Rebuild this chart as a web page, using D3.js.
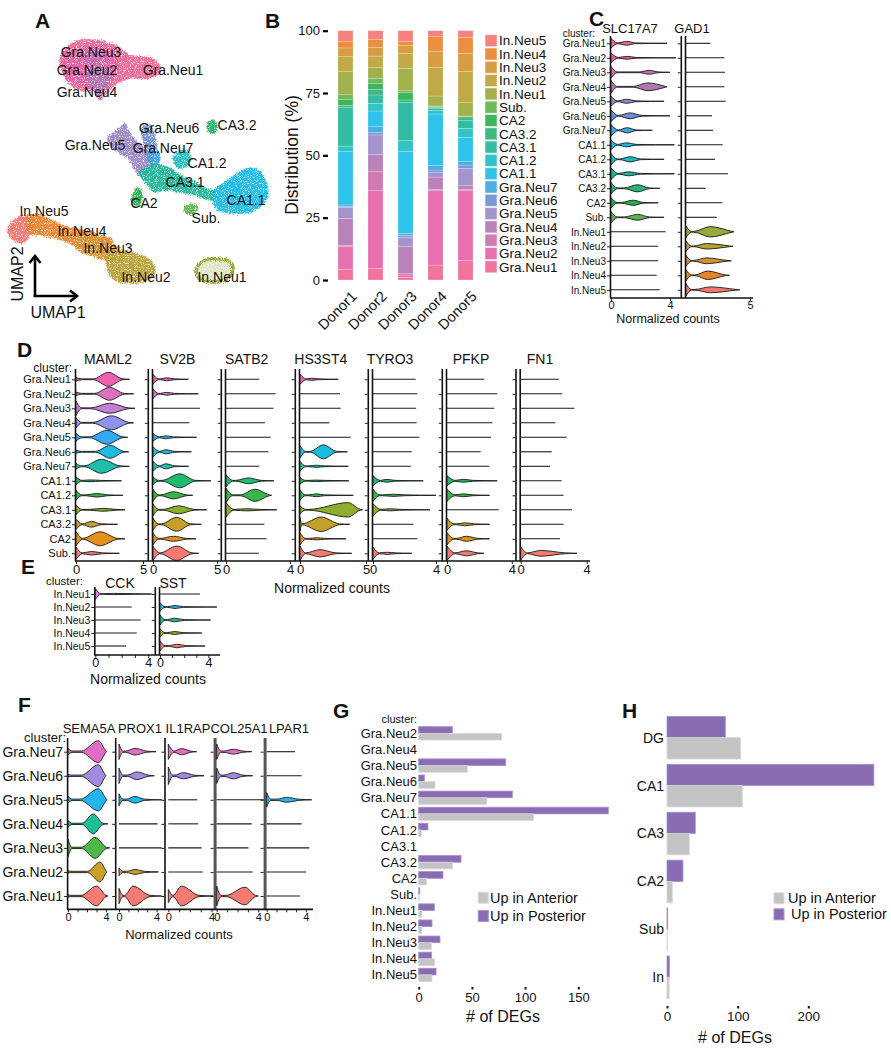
<!DOCTYPE html>
<html><head><meta charset="utf-8">
<script src="https://cdn.jsdelivr.net/npm/d3@7"></script>
<style>
body{margin:0;background:#fff}
svg{display:block}
text{font-family:"Liberation Sans",Arial,Helvetica,sans-serif;fill:#111}
</style>
</head><body>
<svg id="fig" width="891" height="1050">
  <defs>
    <filter id="speckle" x="-10%" y="-10%" width="120%" height="120%">
      <feTurbulence type="fractalNoise" baseFrequency="0.85" numOctaves="1" seed="7" result="noise"/>
      <feDisplacementMap in="SourceGraphic" in2="noise" scale="6" xChannelSelector="R" yChannelSelector="G" result="disp"/>
      <feColorMatrix in="noise" type="matrix" values="0 0 0 0 0  0 0 0 0 0  0 0 0 0 0  6 0 0 0 -1.7" result="mask"/>
      <feComposite in="disp" in2="mask" operator="in"/>
    </filter>
  </defs>
</svg>
<script>
// ======================= DATA =======================
// --- cluster names / colours (panels A, B, C)
const clusters18 = ["Gra.Neu1","Gra.Neu2","Gra.Neu3","Gra.Neu4","Gra.Neu5","Gra.Neu6","Gra.Neu7","CA1.1","CA1.2","CA3.1","CA3.2","CA2","Sub.","In.Neu1","In.Neu2","In.Neu3","In.Neu4","In.Neu5"];
const colors18 = ["#EE6594","#E760A6","#CC6AAD","#B176B2","#9A87C6","#6B8FD0","#3BA3DE","#18BBE8","#1BBDC0","#1CB598","#2BB074","#27AE4A","#5DB34B","#98A93B","#B9A032","#D4922E","#E9832A","#F47470"];

// --- Panel A: UMAP cluster outlines (UMAP1, UMAP2)
const umapGraNeu1 = [[5.7,25.0],[6.7,25.8],[8.7,26.0],[10.7,25.5],[12.2,24.5],[14.2,24.2],[15.0,23.7],[15.2,22.8],[14.2,22.2],[12.2,22.2],[10.7,21.5],[9.7,20.5],[9.2,20.0],[8.7,20.8],[7.2,21.0],[6.0,21.8],[5.4,23.0],[5.2,24.2]];
const umapGraNeu2 = [[5.7,24.5],[7.2,25.2],[9.2,25.3],[10.7,24.5],[11.0,23.2],[10.2,22.0],[8.7,21.5],[6.7,21.7],[5.5,22.8]];
const umapGraNeu3 = [[7.7,24.8],[9.2,25.0],[9.8,24.3],[9.0,23.7],[7.8,23.9]];
const umapGraNeu4 = [[8.0,23.0],[9.4,23.4],[10.2,22.6],[9.8,21.2],[9.3,20.1],[8.8,21.0],[8.0,21.8]];
const umapGraNeu5 = [[11.2,17.2],[11.7,17.6],[12.0,17.0],[12.7,16.0],[13.7,15.0],[14.2,14.0],[14.0,13.0],[13.2,12.4],[12.7,13.0],[12.2,14.0],[11.0,14.8],[10.2,15.5],[10.0,16.2],[10.7,16.8]];
const umapGraNeu6 = [[13.4,17.2],[14.2,17.4],[14.7,16.5],[14.8,15.0],[14.4,14.0],[13.9,14.5],[13.6,15.8]];
const umapGraNeu7 = [[14.2,14.8],[14.9,15.0],[15.2,14.2],[14.8,13.4],[14.2,13.6]];
const umapCA31 = [[13.2,12.8],[14.7,13.5],[16.2,13.2],[17.2,12.5],[18.7,11.8],[19.7,11.2],[20.7,10.8],[21.0,10.2],[20.2,10.0],[18.7,10.5],[17.2,10.8],[15.7,11.0],[14.7,10.8],[14.0,11.5],[13.4,12.2]];
const umapCA12 = [[16.7,14.5],[17.5,15.0],[18.2,14.5],[18.0,13.5],[17.2,13.2],[16.6,13.8]];
const umapCA11 = [[20.7,11.0],[21.7,11.8],[23.2,12.8],[24.2,13.2],[25.0,13.0],[25.7,12.0],[26.0,10.5],[25.4,9.5],[24.2,8.8],[22.4,8.7],[21.0,9.0],[20.5,10.0]];
const umapCA32 = [[20.0,17.7],[20.6,18.0],[20.9,17.2],[20.6,16.7],[20.0,16.9]];
const umapCA2 = [[12.5,10.5],[12.9,11.2],[13.3,11.0],[13.4,10.0],[13.0,9.5],[12.4,9.7]];
const umapSub = [[17.7,9.3],[18.4,9.6],[19.0,9.2],[18.5,8.6],[17.8,8.7]];
const umapInNeu5 = [[0.2,7.5],[1.0,8.2],[2.0,8.4],[2.5,7.8],[2.2,6.5],[1.4,5.7],[0.6,6.0],[0.0,6.8]];
const umapInNeu4 = [[2.0,8.4],[3.2,8.5],[4.7,7.8],[6.2,7.2],[7.7,7.0],[9.2,6.5],[10.4,6.0],[10.2,5.0],[8.7,5.0],[7.2,5.2],[6.2,5.7],[4.7,6.2],[3.2,6.5],[2.2,6.7]];
const umapInNeu3 = [[6.7,6.2],[8.7,6.4],[10.7,5.5],[11.7,4.5],[11.2,3.8],[9.7,4.0],[8.2,4.5],[7.0,5.0]];
const umapInNeu2 = [[10.0,4.5],[11.7,4.8],[13.2,4.5],[14.4,3.8],[14.7,2.8],[14.0,2.0],[12.2,1.7],[10.7,2.0],[10.0,3.0]];
const umapInNeu1 = [[19.0,3.4],[19.7,4.0],[21.2,4.1],[22.2,3.8],[22.5,3.0],[22.0,2.2],[20.7,1.8],[19.4,2.0],[18.8,2.7]];
const umapLabels = [["Gra.Neu3",8.3,24.8],["Gra.Neu2",7.9,23.0],["Gra.Neu1",16.5,23.0],["Gra.Neu4",7.9,20.8],["Gra.Neu6",16.1,17.2],["CA3.2",22.9,17.5],["Gra.Neu5",8.7,15.5],["Gra.Neu7",15.5,15.2],["CA1.2",19.9,13.7],["CA3.1",17.7,11.8],["CA2",13.6,9.7],["CA1.1",23.8,10.0],["Sub.",19.8,8.2],["In.Neu5",3.6,8.9],["In.Neu4",7.4,6.9],["In.Neu3",10.0,5.2],["In.Neu2",13.8,2.3],["In.Neu1",21.4,2.3]];

// --- Panel B: % of cells per cluster (order = clusters18)
const donors = ["Donor1","Donor2","Donor3","Donor4","Donor5"];
const donor1Pct = [4.3,9.1,0.5,10.8,4.4,0.5,0.5,21.4,2.2,15.6,0.7,2.3,2.0,9.3,6.0,3.5,2.7,4.2];
const donor2Pct = [4.7,31.1,7.6,7.0,7.8,0.9,2.4,6.3,3.1,3.3,2.3,2.4,2.0,4.3,4.6,3.5,3.2,3.5];
const donor3Pct = [1.0,1.0,0.5,10.9,3.7,0.8,0.8,32.8,4.4,15.2,1.1,2.9,0.8,9.0,6.0,3.3,1.4,4.4];
const donor4Pct = [6.0,29.8,0.5,5.0,1.8,1.0,1.8,20.7,1.5,0.8,0.3,0.3,0.3,4.0,11.4,6.6,6.0,2.2];
const donor5Pct = [7.8,28.0,0.5,1.5,7.0,1.3,1.4,9.7,3.6,3.1,1.5,0.2,0.2,5.3,12.5,7.3,6.4,2.7];
const bTicks = [0,25,50,75,100];

// Violin specs: [max] = no expression (line only);
// [max, widthAtZero, modeValue, modeWidth, modeLeftSpread, modeRightSpread]
// --- Panel C (rows = clusters18)
const cGenes = ["SLC17A7","GAD1"];
const cVioSLC17A7 = [[3.8,0.75,1.06,0.3,0.6,0.6],[4.4,0.75,1.1,0.22,0.6,0.6],[4.0,0.9,2.6,0.3,0.7,0.6],[3.8,1.0,2.5,0.6,1.0,1.2],[3.6,0.75,1.05,0.3,0.6,0.7],[4.0,0.9,1.3,0.45,0.8,0.8],[2.8,0.9,1.1,0.4,0.6,0.6],[4.3,0.75,1.05,0.3,0.6,0.7],[3.6,0.9,1.3,0.4,0.7,0.7],[4.3,0.9,1.2,0.3,0.7,0.8],[3.3,0.9,1.8,0.55,0.9,0.8],[3.2,0.8,1.5,0.4,0.8,0.7],[3.6,0.9,1.8,0.45,0.9,0.8],[3.7],[3.2],[3.2],[3.1],[3.3]];
const cVioGAD1 = [[1.9],[3.0],[3.05],[3.0],[3.1],[2.03],[2.1],[2.87],[2.27],[3.28],[1.54],[2.85],[2.4],[3.75,0.9,1.9,0.8,1.3,1.7],[3.67,0.8,1.6,0.42,1.0,1.8],[3.54,0.85,1.6,0.45,1.0,1.6],[3.4,0.85,1.7,0.65,1.0,1.4],[4.2,0.95,1.9,0.45,1.2,2.0]];
const cTickLabels = [[0,4],[5]];

// --- Panel D
const dRows = ["Gra.Neu1","Gra.Neu2","Gra.Neu3","Gra.Neu4","Gra.Neu5","Gra.Neu6","Gra.Neu7","CA1.1","CA1.2","CA3.1","CA3.2","CA2","Sub."];
const dColors = ["#F060B0","#DE70C0","#C37FD6","#8E93EC","#34A9EE","#1CBCE0","#1DC0AC","#22BA6E","#3AB54A","#8CAE2C","#C2A02A","#E4901C","#F47A72"];
const dGenes = ["MAML2","SV2B","SATB2","HS3ST4","TYRO3","PFKP","FN1"];
const dVioMAML2 = [[4.0,0.25,2.4,0.97,1.1,1.1],[4.3,0.25,2.5,0.9,1.1,1.1],[4.4,1.0,2.5,0.7,1.4,1.4],[4.3,0.7,2.65,0.97,1.4,1.3],[3.86,0.55,2.3,0.97,1.3,1.2],[3.93,0.2,2.55,0.9,1.1,1.0],[3.98,0.4,1.9,0.97,1.3,1.4],[3.4,0.55,1.05,0.12,0.6,0.8],[3.5,0.7,1.55,0.25,0.8,0.8],[3.66,0.7,2.0,0.2,1.0,1.0],[3.1,0.7,1.17,0.4,0.7,0.7],[3.66,1.0,1.8,0.97,1.3,1.3],[3.24,0.85,1.17,0.25,0.7,0.8]];
const dVioSV2B = [[2.76,0.7,1.07,0.2,0.5,0.6],[3.54,0.7,1.07,0.2,0.5,0.6],[3.67],[2.84],[3.41,0.55,1.0,0.2,0.5,0.6],[3.0,0.7,1.0,0.28,0.5,0.7],[2.78,0.7,1.0,0.35,0.5,0.7],[4.53,0.55,2.1,0.97,1.4,1.2],[3.1,0.85,1.6,0.5,1.0,1.0],[4.2,0.85,2.0,0.55,1.2,1.2],[3.78,0.85,1.85,0.97,1.2,1.1],[3.36,0.85,1.6,0.35,1.0,1.0],[3.57,0.97,1.85,1.0,1.3,1.2]];
const dVioSATB2 = [[2.08],[3.1],[2.96],[2.44],[2.79],[2.65],[2.08],[3.0,0.85,1.4,0.4,0.8,0.8],[2.85,1.0,1.81,0.85,0.9,0.9],[3.17,1.0,1.3,0.15,0.8,0.8],[2.4],[2.54],[2.06]];
const dVioHS3ST4 = [[2.9,0.7,0.88,0.15,0.4,0.5],[3.03],[3.08],[2.22],[3.84],[3.59,0.85,1.77,0.97,1.0,1.0],[3.66,0.7,1.25,0.15,0.6,0.6],[3.7,0.45,1.25,0.1,0.6,0.6],[4.04,0.7,1.25,0.2,0.6,0.6],[4.75,0.55,3.66,1.0,3.0,0.9],[3.77,0.97,1.6,1.0,1.5,1.4],[3.48,0.85,1.25,0.15,0.6,0.6],[3.92,1.0,1.52,0.5,1.1,1.2]];
const dVioTYRO3 = [[2.71],[2.81],[2.74],[2.77],[2.94],[2.46],[2.4],[3.19,0.7,0.87,0.2,0.4,0.5],[4.0,0.85,1.3,0.15,0.7,0.7],[3.62,0.85,1.1,0.15,0.6,0.6],[2.57],[2.81],[2.46,0.85,0.9,0.15,0.5,0.5]];
const dVioPFKP = [[2.3],[3.1],[2.92],[2.8],[2.72],[2.08],[2.61],[3.1,0.7,1.0,0.2,0.5,0.6],[2.63,0.85,1.0,0.2,0.5,0.6],[3.2],[2.63,0.85,1.1,0.2,0.5,0.6],[2.63,0.85,1.2,0.35,0.6,0.7],[2.28,1.0,1.2,0.35,0.7,0.7]];
const dVioFN1 = [[2.3],[2.52],[3.25],[2.1],[2.79],[1.88],[1.78],[2.48],[2.6],[3.11],[2.6],[2.38],[3.41,0.95,1.2,0.4,0.8,1.5]];
const dTickLabels = [[0,5],[0,5],[0,4],[0,5],[0,4],[0,4],[0,4]];

// --- Panel E
const eRows = ["In.Neu1","In.Neu2","In.Neu3","In.Neu4","In.Neu5"];
const eColors = ["#E07DE0","#2EAEEA","#1EBE86","#A6A52A","#F47A72"];
const eGenes = ["CCK","SST"];
const eVioCCK = [[4.27,0.9,1.4,0.1,0.8,1.5],[2.76],[3.44],[3.14],[2.33]];
const eVioSST = [[3.3],[4.7,0.7,1.24,0.25,0.6,0.7],[4.19,0.85,1.2,0.3,0.6,0.8],[3.45,0.7,1.2,0.25,0.6,0.7],[3.72,0.85,1.38,0.3,0.6,0.8]];
const eTickLabels = [[0,4],[0,4]];

// --- Panel F
const fRows = ["Gra.Neu7","Gra.Neu6","Gra.Neu5","Gra.Neu4","Gra.Neu3","Gra.Neu2","Gra.Neu1"];
const fColors = ["#E36CC6","#A08BE0","#22B6EC","#1EBF98","#4FB748","#C9A02A","#F47A72"];
const fGenes = ["SEMA5A","PROX1","IL1RAP","COL25A1","LPAR1"];
const fVioSEMA5A = [[4.07,0.3,3.2,1.0,1.8,0.8],[4.0,0.1,3.2,1.0,1.8,0.8],[4.1,0.3,3.2,1.0,1.9,0.85],[4.2,0.3,2.67,0.9,1.2,1.0],[4.4,0.8,2.84,0.95,1.4,1.2],[4.1,0.1,3.37,0.9,1.3,0.8],[4.2,0.1,3.0,0.9,1.6,1.0]];
const fVioPROX1 = [[3.94,0.7,1.7,0.3,1.0,1.2],[3.76,0.7,1.9,0.35,1.0,1.2],[4.54,0.55,1.7,0.3,0.9,1.0],[4.11],[4.54],[4.2,0.35,1.7,0.22,0.9,1.0],[4.54,0.7,1.5,0.9,0.9,1.8]];
const fVioIL1RAP = [[2.62,0.7,1.23,0.28,0.7,0.8],[3.3,0.8,1.39,0.28,0.8,1.0],[2.68],[2.77],[3.08],[3.2],[4.17,0.6,1.23,0.9,0.8,1.6]];
const fVioCOL25A1 = [[3.37,0.7,1.6,0.22,0.9,0.9],[3.46,0.7,1.6,0.28,0.9,0.9],[4.6],[3.37],[3.05],[3.46],[4.0,0.9,2.72,0.8,1.8,1.0]];
const fVioLPAR1 = [[2.89],[3.57],[4.59,0.65,2.04,0.22,1.0,1.2],[3.57],[4.35],[4.01],[3.4]];
const fTickLabels = [[0,4],[0,4],[0,4],[0,4],[0,4]];

// --- Panel G: number of DEGs per cluster
const gClusters = ["Gra.Neu2","Gra.Neu4","Gra.Neu5","Gra.Neu6","Gra.Neu7","CA1.1","CA1.2","CA3.1","CA3.2","CA2","Sub.","In.Neu1","In.Neu2","In.Neu3","In.Neu4","In.Neu5"];
const gPosterior = [31.6,0,81.8,5.3,88,178.2,8.7,0,39.8,22.8,1.0,14.7,12.5,20,12.2,16.3];
const gAnterior = [78,0,45.7,15.3,63.9,107.7,2.5,0,31.6,7.5,0.5,3,3,12.2,15,12.5];
const gTicks = [0,50,100,150];

// --- Panel H: number of DEGs per region
const hRegions = ["DG","CA1","CA3","CA2","Sub","In"];
const hPosterior = [82.5,292.8,40,22.6,1,3.3];
const hAnterior = [104.2,106.5,31.6,7.5,0.5,3];
const hTicks = [0,100,200];

const degSeries = ["Up in Posterior","Up in Anterior"];
const degColors = {"Up in Posterior":"#8A6CB3","Up in Anterior":"#C4C4C4"};
const degStroke = {"Up in Posterior":"#A58FD0","Up in Anterior":"#D9D9D9"};

// ======================= DRAWING =======================
const svg = d3.select("#fig");
svg.insert("rect","defs").attr("width",891).attr("height",1050).attr("fill","#fff");
const FONT = '"Liberation Sans", Arial, Helvetica, sans-serif';

function txt(g, x, y, s, size, anchor, weight){
  return g.append("text").attr("x",x).attr("y",y).attr("dy","0.35em")
    .attr("font-size",size).attr("text-anchor",anchor||"start")
    .attr("font-weight",weight||null).text(s);
}
function letter(x, y, s){ svg.append("text").attr("x",x).attr("y",y).attr("font-size",21).attr("font-weight","bold").text(s); }

letter(35,28,"A"); letter(265,28,"B"); letter(589,26,"C"); letter(17,357,"D");
letter(21,574,"E"); letter(18,712,"F"); letter(333,718,"G"); letter(622,718,"H");

// ---------- Panel A ----------
(function(){
  const g = svg.append("g");
  const gb = g.append("g").attr("filter","url(#speckle)");
  const ux = d3.scaleLinear().domain([0,27]).range([8,278]);
  const uy = d3.scaleLinear().domain([0,27]).range([300,30]);
  const blobs = [["Gra.Neu1",umapGraNeu1],["Gra.Neu2",umapGraNeu2],["Gra.Neu3",umapGraNeu3],["Gra.Neu4",umapGraNeu4],
    ["Gra.Neu5",umapGraNeu5],["Gra.Neu6",umapGraNeu6],["Gra.Neu7",umapGraNeu7],["CA3.1",umapCA31],["CA1.2",umapCA12],
    ["CA1.1",umapCA11],["CA3.2",umapCA32],["CA2",umapCA2],["Sub.",umapSub],["In.Neu5",umapInNeu5],["In.Neu4",umapInNeu4],
    ["In.Neu3",umapInNeu3],["In.Neu2",umapInNeu2],["In.Neu1",umapInNeu1]];
  const col = d3.scaleOrdinal().domain(clusters18).range(colors18);
  const line = d3.line().x(d=>ux(d[0])).y(d=>uy(d[1])).curve(d3.curveCatmullRomClosed.alpha(0.5));
  blobs.forEach(([name, pts]) => {
    const ring = name === "In.Neu1";
    gb.append("path").attr("d", line(pts)).attr("fill", col(name))
      .attr("fill-opacity", ring ? 0.3 : 0.95)
      .attr("stroke", col(name)).attr("stroke-width", ring ? 3.5 : 1.5).attr("stroke-opacity", ring ? 1 : 0.7);
  });
  umapLabels.forEach(([s,x,y]) => txt(g, ux(x), uy(y), s, 14, "middle"));
  g.append("path").attr("d","M35,297 V257").attr("stroke","#000").attr("stroke-width",2.6).attr("fill","none");
  g.append("path").attr("d","M29.5,263 L35,256 L40.5,263").attr("stroke","#000").attr("stroke-width",2.6).attr("fill","none");
  g.append("path").attr("d","M33.7,296 H76").attr("stroke","#000").attr("stroke-width",2.6).attr("fill","none");
  g.append("path").attr("d","M70,290.5 L77,296 L70,301.5").attr("stroke","#000").attr("stroke-width",2.6).attr("fill","none");
  g.append("text").attr("transform","translate(23,274) rotate(-90)").attr("text-anchor","middle").attr("font-size",16).text("UMAP2");
  txt(g, 58, 312, "UMAP1", 16, "middle");
})();

// ---------- Panel B ----------
(function(){
  const g = svg.append("g");
  const pctArrays = [donor1Pct,donor2Pct,donor3Pct,donor4Pct,donor5Pct];
  const table = donors.map((d,i) => { const o = {donor:d}; clusters18.forEach((c,j)=>o[c]=pctArrays[i][j]); return o; });
  const stack = d3.stack().keys(clusters18)(table);
  const x = d3.scaleBand().domain(donors).range([330.5,480.5]).paddingInner(0.5).paddingOuter(0.25);
  const y = d3.scaleLinear().domain([0,100]).range([280,30.7]);
  const col = d3.scaleOrdinal().domain(clusters18).range(colors18);
  stack.forEach(layer => {
    g.append("g").selectAll("rect").data(layer).join("rect")
      .attr("x", d=>x(d.data.donor)).attr("width", x.bandwidth())
      .attr("y", d=>y(d[1])).attr("height", d=>Math.max(0, y(d[0])-y(d[1])))
      .attr("fill", col(layer.key)).attr("fill-opacity",0.9)
      .attr("stroke","#fff").attr("stroke-opacity",0.35).attr("stroke-width",0.6);
  });
  const ax = g.append("g").attr("transform","translate(328,0)")
    .call(d3.axisLeft(y).tickValues(bTicks).tickSize(5).tickPadding(3));
  ax.select(".domain").remove();
  ax.selectAll("line").attr("stroke-width",2.2);
  ax.selectAll("text").attr("font-size",13).attr("font-family",FONT).attr("fill","#222");
  g.append("text").attr("transform","translate(292,155) rotate(-90)").attr("text-anchor","middle")
    .attr("dy","0.35em").attr("font-size",17.5).text("Distribution (%)");
  donors.forEach(d => {
    const cx = x(d) + x.bandwidth()/2;
    g.append("text").attr("transform",`translate(${cx+5},290) rotate(-45)`).attr("text-anchor","end")
      .attr("dy","0.7em").attr("font-size",14.5).text(d);
  });
  const legOrder = clusters18.slice().reverse();
  legOrder.forEach((c,i) => {
    const yy = 40.7 + i*13.3;
    g.append("rect").attr("x",485).attr("y",yy-6).attr("width",12).attr("height",12)
      .attr("fill",col(c)).attr("fill-opacity",0.9).attr("stroke","#fff").attr("stroke-opacity",0.5);
    txt(g, 499, yy, c, 13.5);
  });
})();

// ---------- generic violin panel ----------
function violinShape(spec){
  const [mx,w0,c,h,l,r] = spec;
  const t = 0.06;
  const pts = [[0,w0]];
  let a = c - l;
  if (a > 0.55) pts.push([0.42,t]);
  a = Math.max(a, 0.14);
  pts.push([a,t]);
  pts.push([c,h]);
  const b = Math.min(c + r, mx - 0.06);
  if (b > c + 0.05) pts.push([b,t]);
  pts.push([mx,0]);
  return pts;
}
function violinPanel(cfg){
  const g = svg.append("g");
  const yS = d3.scalePoint().domain(cfg.rows).range(cfg.yRange);
  cfg.genes.forEach((gene, gi) => {
    const z = cfg.zeros[gi];
    const tmax = d3.max(cfg.tickLabels[gi]) || 4;
    const xs = d3.scaleLinear().domain([0,1]).range([z, z + cfg.ppu[gi]]);
    const seps = cfg.seps(gi);
    seps.forEach(([dx,color,w]) => {
      g.append("line").attr("x1",z+dx).attr("x2",z+dx).attr("y1",cfg.topY).attr("y2",cfg.axisY)
        .attr("stroke",color).attr("stroke-width",w);
    });
    const leftX = z + d3.min(seps, s=>s[0]) - (d3.max(seps, s=>s[2]) > 2 ? 1.5 : 0.5);
    const ya = g.append("g").attr("transform",`translate(${leftX},0)`)
      .call(d3.axisLeft(yS).tickSize(3).tickPadding(1).tickFormat(gi===0 ? (d=>d) : (()=>"")));
    ya.select(".domain").remove();
    ya.selectAll("text").attr("font-size",cfg.rowLabelSize).attr("font-family",FONT).attr("fill","#222");
    ya.selectAll("line").attr("stroke","#222");
    txt(g, cfg.titleXs[gi], cfg.titleY, gene, cfg.titleSize, "middle");
    cfg.specs[gi].forEach((spec, ri) => {
      const yy = yS(cfg.rows[ri]);
      if (spec.length === 1){
        g.append("line").attr("x1",xs(0)).attr("x2",xs(spec[0])).attr("y1",yy).attr("y2",yy)
          .attr("stroke","#1a1a1a").attr("stroke-width",1.1);
      } else {
        const area = d3.area().x(d=>xs(d[0])).y0(d=>yy - d[1]*cfg.maxHalf).y1(d=>yy + d[1]*cfg.maxHalf)
          .curve(d3.curveMonotoneX);
        g.append("path").attr("d", area(violinShape(spec))).attr("fill", cfg.colors[ri])
          .attr("stroke","#1a1a1a").attr("stroke-width",0.9).attr("stroke-linejoin","round");
      }
    });
    const xsT = d3.scaleLinear().domain([0,tmax]).range([xs(0), xs(tmax)]);
    const vals = cfg.minor ? d3.range(0, tmax+1) : cfg.tickLabels[gi];
    const xa = g.append("g").attr("transform",`translate(0,${cfg.axisY})`)
      .call(d3.axisBottom(xsT).tickValues(vals).tickSize(3).tickPadding(0.5)
        .tickFormat(d => cfg.tickLabels[gi].includes(d) ? d : ""));
    xa.select(".domain").remove();
    xa.selectAll("text").attr("font-size",cfg.tickFont).attr("font-family",FONT).attr("fill","#222");
    xa.selectAll("line").attr("stroke","#222");
  });
  g.append("line").attr("x1",cfg.xStart).attr("x2",cfg.xEnd).attr("y1",cfg.axisY).attr("y2",cfg.axisY)
    .attr("stroke","#111").attr("stroke-width",1.7);
  txt(g, cfg.xlab[0], cfg.xlab[1], "Normalized counts", cfg.xlab[2], "middle");
  txt(g, cfg.clusterLab[0], cfg.clusterLab[1], "cluster:", cfg.clusterLab[2], "end");
}
const sepStd = gi => gi===0 ? [[-0.5,"#111",1.6]] : [[-0.5,"#111",1.6],[-4.7,"#111",1.6]];

// ---------- Panel C ----------
violinPanel({rows:clusters18, yRange:[43.3,289.8], genes:cGenes, specs:[cVioSLC17A7,cVioGAD1],
  zeros:[611,686], ppu:[14.75,12.8], tickLabels:cTickLabels, minor:false, colors:colors18, maxHalf:6.5,
  topY:36, axisY:298, xStart:610, xEnd:753, rowLabelSize:10, titleXs:[630,692], titleY:28, titleSize:13,
  tickFont:11, xlab:[668,318.5,12.5], clusterLab:[595,33,10], seps:sepStd});

// ---------- Panel D ----------
violinPanel({rows:dRows, yRange:[379.3,553.3], genes:dGenes,
  specs:[dVioMAML2,dVioSV2B,dVioSATB2,dVioHS3ST4,dVioTYRO3,dVioPFKP,dVioFN1],
  zeros:[76,153,226,300,373,447,520.7], ppu:[13.4,12.8,16,13.2,15.75,16.2,16.5], tickLabels:dTickLabels, minor:false,
  colors:dColors, maxHalf:7.2, topY:369, axisY:561, xStart:75, xEnd:590, rowLabelSize:11,
  titleXs:[108,177.5,246.7,320.8,390,471,540], titleY:359, titleSize:14, tickFont:13,
  xlab:[332,588,14], clusterLab:[72,368,12], seps:sepStd});

// ---------- Panel E ----------
violinPanel({rows:eRows, yRange:[594,646], genes:eGenes, specs:[eVioCCK,eVioSST],
  zeros:[95.3,160], ppu:[13.2,12.1], tickLabels:eTickLabels, minor:true, colors:eColors, maxHalf:6,
  topY:587, axisY:655, xStart:94, xEnd:220, rowLabelSize:10.5, titleXs:[120,173], titleY:583, titleSize:14,
  tickFont:12.5, xlab:[148,679,14], clusterLab:[83,581,11.5], seps:sepStd});

// ---------- Panel F ----------
violinPanel({rows:fRows, yRange:[751.7,896], genes:fGenes,
  specs:[fVioSEMA5A,fVioPROX1,fVioIL1RAP,fVioCOL25A1,fVioLPAR1],
  zeros:[68,119,168.3,216.7,266.7], ppu:[9.5,9.4,10.8,10.4,9.8], tickLabels:fTickLabels, minor:true,
  colors:fColors, maxHalf:11, topY:738, axisY:909.3, xStart:67, xEnd:313, rowLabelSize:14,
  titleXs:[89,140,188,239,289], titleY:728, titleSize:13, tickFont:11, xlab:[179,934,13], clusterLab:[66,737,13],
  seps: gi => gi===0 ? [[-0.4,"#111",1.6]] : (gi<3 ? [[-3.3,"#111",1.6]] : [[-1.6,"#555",3]])});

// ---------- Panel G ----------
(function(){
  const g = svg.append("g");
  const y = d3.scaleBand().domain(gClusters).range([725.3,983]).paddingInner(0.17).paddingOuter(0.085);
  const ys = d3.scaleBand().domain(degSeries).range([0,y.bandwidth()]);
  const x = d3.scaleLinear().domain([0,150]).range([418.7,578.3]);
  const rows = gClusters.map((c,i)=>({c, v:{"Up in Posterior":gPosterior[i],"Up in Anterior":gAnterior[i]}}));
  degSeries.forEach(s => {
    g.append("g").selectAll("rect").data(rows.filter(r=>r.v[s]>0)).join("rect")
      .attr("x", x(0)).attr("y", r=>y(r.c)+ys(s)).attr("height", ys.bandwidth())
      .attr("width", r=>x(r.v[s])-x(0)).attr("fill",degColors[s]).attr("stroke",degStroke[s]).attr("stroke-width",0.8);
  });
  gClusters.forEach(c => txt(g, 417, y(c)+y.bandwidth()/2, c, 13, "end"));
  txt(g, 417, 719, "cluster:", 11, "end");
  const ax = g.append("g").attr("transform","translate(0,987)")
    .call(d3.axisBottom(x).tickValues(gTicks).tickSize(2.5).tickPadding(3));
  ax.select(".domain").remove();
  ax.selectAll("line").attr("stroke-width",2).attr("stroke","#111");
  ax.selectAll("text").attr("font-size",13).attr("font-family",FONT).attr("fill","#222");
  txt(g, 503, 1016, "# of DEGs", 16, "middle");
  [["Up in Anterior",897.7],["Up in Posterior",916]].forEach(([s,yy]) => {
    g.append("rect").attr("x",478.3).attr("y",yy-5.5).attr("width",10).attr("height",11)
      .attr("fill",degColors[s]).attr("stroke",degStroke[s]);
    txt(g, 490, yy, s, 14.5);
  });
})();

// ---------- Panel H ----------
(function(){
  const g = svg.append("g");
  const y = d3.scaleBand().domain(hRegions).range([713.75,1001.25]).paddingInner(0.11).paddingOuter(0.055);
  const ys = d3.scaleBand().domain(degSeries).range([0,y.bandwidth()]);
  const x = d3.scaleLinear().domain([0,200]).range([667,808.3]);
  const rows = hRegions.map((c,i)=>({c, v:{"Up in Posterior":hPosterior[i],"Up in Anterior":hAnterior[i]}}));
  degSeries.forEach(s => {
    g.append("g").selectAll("rect").data(rows.filter(r=>r.v[s]>0)).join("rect")
      .attr("x", x(0)).attr("y", r=>y(r.c)+ys(s)).attr("height", ys.bandwidth())
      .attr("width", r=>x(r.v[s])-x(0)).attr("fill",degColors[s]).attr("stroke",degStroke[s]).attr("stroke-width",0.8);
  });
  hRegions.forEach(c => txt(g, 664, y(c)+y.bandwidth()/2, c, 14, "end"));
  const ax = g.append("g").attr("transform","translate(0,1006)")
    .call(d3.axisBottom(x).tickValues(hTicks).tickSize(2.5).tickPadding(3));
  ax.select(".domain").remove();
  ax.selectAll("line").attr("stroke-width",2).attr("stroke","#111");
  ax.selectAll("text").attr("font-size",13.5).attr("font-family",FONT).attr("fill","#222");
  txt(g, 735, 1037, "# of DEGs", 16, "middle");
  [["Up in Anterior",898.3,788],["Up in Posterior",914.3,791]].forEach(([s,yy,tx]) => {
    g.append("rect").attr("x",774).attr("y",yy-5.5).attr("width",10).attr("height",11)
      .attr("fill",degColors[s]).attr("stroke",degStroke[s]);
    txt(g, tx, yy, s, 14.5);
  });
})();
</script>
</body></html>
